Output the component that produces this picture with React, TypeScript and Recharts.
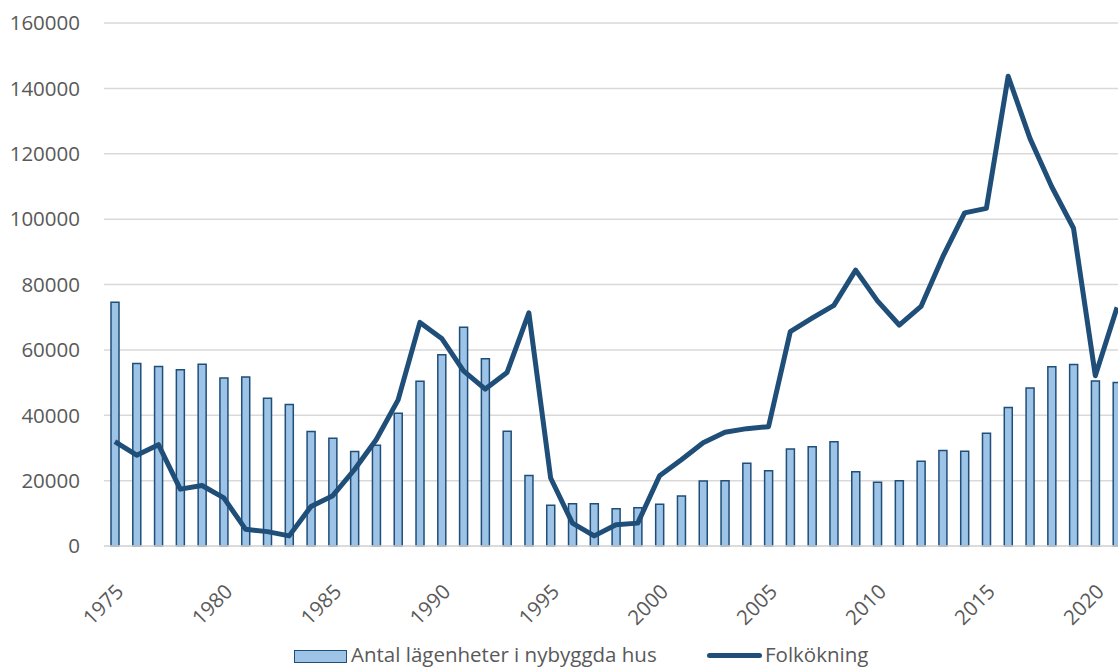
import React from 'react';
import { ComposedChart, Bar, Line, XAxis, YAxis, CartesianGrid, Legend } from 'recharts';

const years = [
  1975, 1976, 1977, 1978, 1979, 1980, 1981, 1982, 1983, 1984,
  1985, 1986, 1987, 1988, 1989, 1990, 1991, 1992, 1993, 1994,
  1995, 1996, 1997, 1998, 1999, 2000, 2001, 2002, 2003, 2004,
  2005, 2006, 2007, 2008, 2009, 2010, 2011, 2012, 2013, 2014,
  2015, 2016, 2017, 2018, 2019, 2020, 2021,
];

// Antal lägenheter i nybyggda hus
const apartments = [
  74600, 55800, 54900, 53900, 55600, 51400, 51700, 45200, 43300, 35000,
  33000, 28900, 30800, 40600, 50400, 58500, 66900, 57300, 35100, 21600,
  12500, 12900, 12900, 11400, 11700, 12800, 15300, 19900, 20000, 25300,
  23000, 29700, 30400, 31900, 22700, 19500, 20000, 25900, 29200, 29000,
  34500, 42400, 48300, 54800, 55500, 50500, 50000,
];

// Folkökning
const popGrowth = [
  31900, 27800, 31000, 17400, 18500, 14700, 5100, 4400, 3100, 12100,
  15400, 23400, 32600, 44700, 68400, 63500, 53600, 48000, 53100, 71300,
  20800, 7000, 3100, 6500, 7000, 21500, 26400, 31600, 34800, 35900,
  36500, 65600, 69700, 73600, 84400, 75000, 67600, 73300, 88500, 101900,
  103300, 143700, 124700, 109900, 97200, 52100, 73000,
];

const yTicks = [0, 20000, 40000, 60000, 80000, 100000, 120000, 140000, 160000];

const barLabel = 'Antal lägenheter i nybyggda hus';
const lineLabel = 'Folkökning';

const data = years.map((year, i) => ({
  year,
  apartments: apartments[i],
  growth: popGrowth[i],
}));

const FONT = '"Open Sans", sans-serif';
const TEXT = '#595959';
const DARK = '#1F4E79';
const LIGHT = '#9DC3E6';

function YearTick({ x, y, payload }: any) {
  const ax = x + 10;
  const ay = y + 47;
  return (
    <text
      x={ax}
      y={ay}
      textAnchor="end"
      fill={TEXT}
      fontSize={20.5}
      fontFamily={FONT}
      transform={`rotate(-45, ${ax}, ${ay})`}
    >
      {payload.value}
    </text>
  );
}

function ChartLegend() {
  return (
    <div style={{ position: 'relative', height: 24, width: 1128, fontFamily: FONT, fontSize: 20.5, color: TEXT }}>
      <div style={{ position: 'absolute', left: 294, top: 6, width: 51, height: 11, background: LIGHT, border: `1.5px solid ${DARK}` }} />
      <span style={{ position: 'absolute', left: 351, top: -4, lineHeight: '28px', whiteSpace: 'nowrap' }}>{barLabel}</span>
      <div style={{ position: 'absolute', left: 707, top: 9, width: 55, height: 5, background: DARK, borderRadius: 3 }} />
      <span style={{ position: 'absolute', left: 765, top: -4, lineHeight: '28px', whiteSpace: 'nowrap' }}>{lineLabel}</span>
    </div>
  );
}

export default function App() {
  return (
    <div style={{ position: 'absolute', left: 0, top: 0, width: 1118, height: 668, overflow: 'hidden', background: '#fff' }}>
      <ComposedChart width={1128} height={668} data={data} margin={{ top: 23, right: 0, bottom: 0, left: 0 }}>
        <CartesianGrid vertical={false} stroke="#D9D9D9" strokeWidth={1.5} />
        <XAxis
          dataKey="year"
          interval={4}
          height={98}
          tickLine={false}
          tickSize={0}
          tickMargin={0}
          axisLine={{ stroke: '#D9D9D9', strokeWidth: 1.5 }}
          tick={<YearTick />}
        />
        <YAxis
          domain={[0, 160000]}
          ticks={yTicks}
          width={104}
          axisLine={false}
          tickLine={false}
          tickMargin={18}
          tick={{ fill: TEXT, fontSize: 20.5, fontFamily: FONT }}
        />
        <Legend verticalAlign="bottom" content={<ChartLegend />} wrapperStyle={{ left: 0, width: 1128, height: 24 }} />
        <Bar dataKey="apartments" name={barLabel} barSize={8} fill={LIGHT} stroke={DARK} strokeWidth={1.5} isAnimationActive={false} />
        <Line
          dataKey="growth"
          name={lineLabel}
          type="linear"
          stroke={DARK}
          strokeWidth={5}
          strokeLinejoin="round"
          dot={false}
          activeDot={false}
          isAnimationActive={false}
        />
      </ComposedChart>
    </div>
  );
}
